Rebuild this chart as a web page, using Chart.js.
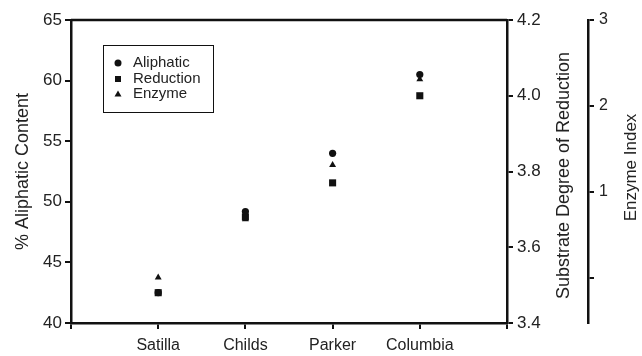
<!DOCTYPE html>
<html>
<head>
<meta charset="utf-8">
<script src="https://cdn.jsdelivr.net/npm/chart.js@4"></script>
<style>
  body { margin: 0; background: #fff; }
</style>
</head>
<body>
<canvas id="chart" width="642" height="356"></canvas>
<script>
const categories = ['Satilla', 'Childs', 'Parker', 'Columbia'];
const aliphatic = [42.5, 49.2, 54.0, 60.5];
const reduction = [3.48, 3.68, 3.77, 4.00];
const enzyme = [0.0, 0.68, 1.31, 2.31];

const aliphaticTicks = [40, 45, 50, 55, 60, 65];
const reductionTicks = [3.4, 3.6, 3.8, 4.0, 4.2];
const enzymeTicks = [0, 1, 2, 3];

const ink = '#111';
const font = 'Liberation Sans, Arial, sans-serif';

let toPoints = (vals) => vals.map((v, i) => ({ x: i + 1, y: v }));

// right-hand titles read bottom-to-top like the left one, so draw them by hand
let sideTitle = (ctx, text, x, y, size) => {
    ctx.save();
    ctx.translate(x, y);
    ctx.rotate(-Math.PI / 2);
    ctx.font = size + 'px ' + font;
    ctx.fillStyle = '#222';
    ctx.textAlign = 'center';
    ctx.textBaseline = 'middle';
    ctx.fillText(text, 0, 0);
    ctx.restore();
};

const extras = {
    id: 'extras',
    afterDraw(chart) {
        const ctx = chart.ctx;
        const a = chart.chartArea;
        ctx.save();
        ctx.strokeStyle = ink;
        ctx.lineWidth = 2.5;
        ctx.beginPath();
        ctx.moveTo(a.left, a.top);
        ctx.lineTo(a.right, a.top);
        ctx.stroke();

        const yR = chart.scales.yR;
        const yE = chart.scales.yE;
        sideTitle(ctx, 'Substrate Degree of Reduction', yR.right - 24, (a.top + a.bottom) / 2 + 4, 18);
        sideTitle(ctx, 'Enzyme Index', yE.right - 11, (a.top + a.bottom) / 2 - 4, 17);

        // legend
        ctx.lineWidth = 1;
        ctx.strokeRect(103.5, 45.5, 110, 67);
        const rows = [63, 79, 94];
        ctx.font = '15px ' + font;
        ctx.textBaseline = 'middle';
        chart.data.datasets.forEach((ds, i) => {
            const y = rows[i];
            const x = 118;
            ctx.fillStyle = ink;
            ctx.beginPath();
            if (ds.pointStyle === 'circle') {
                ctx.arc(x, y, 3.5, 0, Math.PI * 2);
            } else if (ds.pointStyle === 'rect') {
                ctx.rect(x - 3, y - 3, 6, 6);
            } else {
                ctx.moveTo(x, y - 3.5);
                ctx.lineTo(x + 3.5, y + 2.5);
                ctx.lineTo(x - 3.5, y + 2.5);
                ctx.closePath();
            }
            ctx.fill();
            ctx.fillStyle = '#222';
            ctx.fillText(ds.label, 133, y);
        });
        ctx.restore();
    }
};

new Chart('chart', {
    type: 'scatter',
    data: {
        datasets: [{
            label: 'Aliphatic',
            data: toPoints(aliphatic),
            yAxisID: 'yA',
            pointStyle: 'circle',
            pointRadius: 3.6,
            backgroundColor: ink,
            borderColor: ink,
            borderWidth: 0
        }, {
            label: 'Reduction',
            data: toPoints(reduction),
            yAxisID: 'yR',
            pointStyle: 'rect',
            pointRadius: 5,
            backgroundColor: ink,
            borderColor: ink,
            borderWidth: 0
        }, {
            label: 'Enzyme',
            data: toPoints(enzyme),
            yAxisID: 'yE',
            pointStyle: 'triangle',
            pointRadius: 4,
            backgroundColor: ink,
            borderColor: ink,
            borderWidth: 0
        }]
    },
    options: {
        responsive: false,
        animation: false,
        devicePixelRatio: 1,
        layout: { padding: { top: 20, left: 0, right: 0, bottom: 0 } },
        plugins: {
            legend: { display: false },
            tooltip: { enabled: false }
        },
        scales: {
            x: {
                type: 'linear',
                min: 0,
                max: 5,
                afterBuildTicks: (s) => { s.ticks = [0, 1, 2, 3, 4, 5].map(v => ({ value: v })); },
                afterFit: (s) => { s.height = 33; },
                ticks: {
                    autoSkip: false,
                    maxRotation: 0,
                    padding: 7,
                    color: '#222',
                    font: { family: font, size: 16 },
                    callback: (v) => categories[v - 1] || ''
                },
                grid: { drawOnChartArea: false, tickLength: 6, color: ink, lineWidth: 2 },
                border: { color: ink, width: 2.5 }
            },
            yA: {
                position: 'left',
                min: 40,
                max: 65,
                afterBuildTicks: (s) => { s.ticks = aliphaticTicks.map(v => ({ value: v })); },
                afterFit: (s) => { s.width = 71; },
                title: {
                    display: true,
                    text: '% Aliphatic Content',
                    color: '#222',
                    font: { family: font, size: 18 },
                    padding: { top: 12, bottom: 0 }
                },
                ticks: {
                    padding: 3,
                    color: '#222',
                    font: { family: font, size: 17 }
                },
                grid: { drawOnChartArea: false, tickLength: 6, color: ink, lineWidth: 2 },
                border: { color: ink, width: 2.5 }
            },
            yR: {
                position: 'right',
                min: 3.4,
                max: 4.2,
                afterBuildTicks: (s) => { s.ticks = reductionTicks.map(v => ({ value: v })); },
                afterFit: (s) => { s.width = 81; },
                ticks: {
                    padding: 4,
                    color: '#222',
                    font: { family: font, size: 17 },
                    callback: (v) => v.toFixed(1)
                },
                grid: { drawOnChartArea: false, tickLength: 6, color: ink, lineWidth: 2 },
                border: { color: ink, width: 2.5 }
            },
            yE: {
                position: 'right',
                min: -0.53,
                max: 3,
                afterBuildTicks: (s) => { s.ticks = enzymeTicks.map(v => ({ value: v })); },
                afterFit: (s) => { s.width = 54; },
                ticks: {
                    padding: 5,
                    color: '#222',
                    font: { family: font, size: 16 },
                    callback: (v) => v === 0 ? '' : String(v)
                },
                grid: { drawOnChartArea: false, tickLength: 6, color: ink, lineWidth: 2 },
                border: { color: ink, width: 2.5 }
            }
        }
    },
    plugins: [extras]
});
</script>
</body>
</html>
